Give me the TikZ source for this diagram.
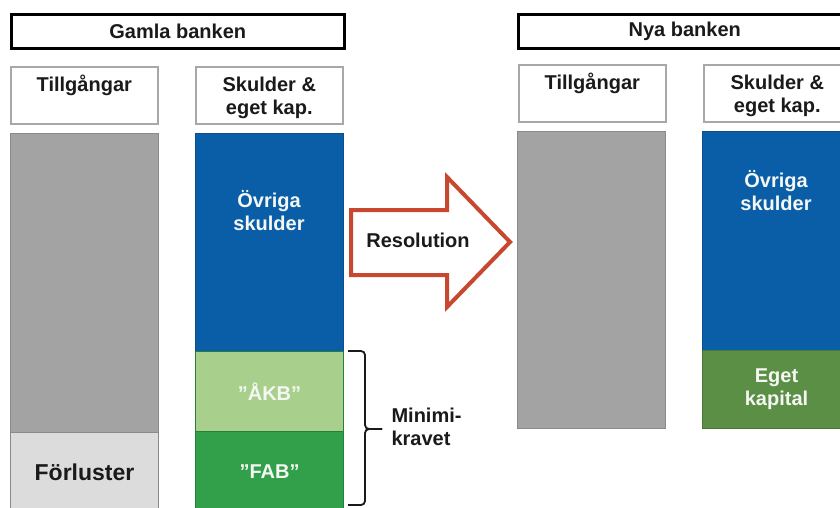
\documentclass[tikz,border=0pt]{standalone}
\usepackage{fontspec}
\setmainfont{Liberation Sans}
\definecolor{cblue}{HTML}{0A5EA8}
\definecolor{cblued}{HTML}{0A4E8C}
\definecolor{cgray}{HTML}{A3A3A3}
\definecolor{cgrayd}{HTML}{8A8A8A}
\definecolor{clgray}{HTML}{DCDCDC}
\definecolor{clgreen}{HTML}{A9CF8C}
\definecolor{cgreen}{HTML}{32A04B}
\definecolor{cgreend}{HTML}{25803A}
\definecolor{cegreen}{HTML}{5B8F46}
\definecolor{cegreend}{HTML}{4A7838}
\definecolor{headgray}{HTML}{A8A8A8}
\definecolor{arrowc}{HTML}{C8472F}
\definecolor{txt}{HTML}{1A1A1A}
\definecolor{wtxt}{HTML}{F4F7F2}
\begin{document}
\begin{tikzpicture}[x=1pt,y=-1pt,
  font=\fontsize{20}{23}\selectfont\bfseries, text=txt,
  titlebox/.style={draw=black, line width=2.5pt, minimum width=333pt, minimum height=34pt, anchor=north west, inner sep=0pt},
  headbox/.style={draw=headgray, line width=1.6pt, minimum width=147pt, minimum height=57pt, anchor=north west, inner sep=0pt},
  headtext/.style={align=center, inner sep=0pt},
  block/.style={anchor=north west, minimum width=148pt, inner sep=0pt, line width=1pt, align=center},
  wlabel/.style={text=wtxt, align=center},
  bracestyle/.style={draw=txt, line width=1.8pt, rounded corners=4pt}]
\useasboundingbox (0,0) rectangle (840,507);
\clip (0,0) rectangle (840,507);
\fill[white] (0,0) rectangle (840,507);
% Gamla banken
\node[titlebox] (gamla) at (10,13) {Gamla banken};
\node[headbox] (gtill) at (10,66) {};
\node[headtext] (gtillt) at ([yshift=-2.5pt]gtill.center) {Tillgångar\\\strut};
\node[headbox] (gskuld) at (195,66) {};
\node[headtext] (gskuldt) at ([yshift=-2.5pt]gskuld.center) {Skulder \&\\eget kap.};
\node[block, fill=cgray, draw=cgrayd, minimum height=299pt] (gassets) at (10,133) {};
\node[block, fill=clgray, draw=cgrayd, minimum height=80pt, font=\fontsize{23}{26}\selectfont\bfseries] (gloss) at (10,432) {Förluster};
\node[block, fill=cblue, draw=cblued, minimum height=218pt] (gdebt) at (195,133) {};
\node[wlabel] (govr) at (269,211) {Övriga\\skulder};
\node[block, fill=clgreen, draw=cgreend, minimum height=80pt, text=wtxt] (akb) at (195,351) {”ÅKB”};
\node[block, fill=cgreen, draw=cgreend, minimum height=80pt, text=wtxt] (fab) at (195,431) {”FAB”};
% Brace
\coordinate (btop) at (348,351);
\coordinate (bbot) at (348,505);
\coordinate (btip) at (382,429);
\draw[bracestyle] (btop) -- (365,351) -- (365,429) -- (btip);
\draw[bracestyle] (bbot) -- (365,505) -- (365,429) -- (btip);
\node[anchor=west, align=left] (mk) at (388,427) {Minimi-\\kravet};
% Arrow
\draw[draw=arrowc, line width=4pt, fill=white, line join=miter]
  (351,210) -- (447,210) -- (447,177) -- (510,242) -- (447,307) -- (447,275) -- (351,275) -- cycle;
\node (res) at (418,240) {Resolution};
% Nya banken
\node[titlebox] (nya) at (517,13) {Nya banken};
\node[headbox] (ntill) at (518,64) {};
\node[headtext] (ntillt) at ([yshift=-2.5pt]ntill.center) {Tillgångar\\\strut};
\node[headbox] (nskuld) at (703,64) {};
\node[headtext] (nskuldt) at ([yshift=-2.5pt]nskuld.center) {Skulder \&\\eget kap.};
\node[block, fill=cgray, draw=cgrayd, minimum height=297pt] (nassets) at (517,131) {};
\node[block, fill=cblue, draw=cblued, minimum height=219pt] (ndebt) at (702,131) {};
\node[wlabel] (novr) at (776,191) {Övriga\\skulder};
\node[block, fill=cegreen, draw=cegreend, minimum height=78pt, text=wtxt] (neget) at (702,350) {Eget\\kapital};
\end{tikzpicture}
\end{document}
